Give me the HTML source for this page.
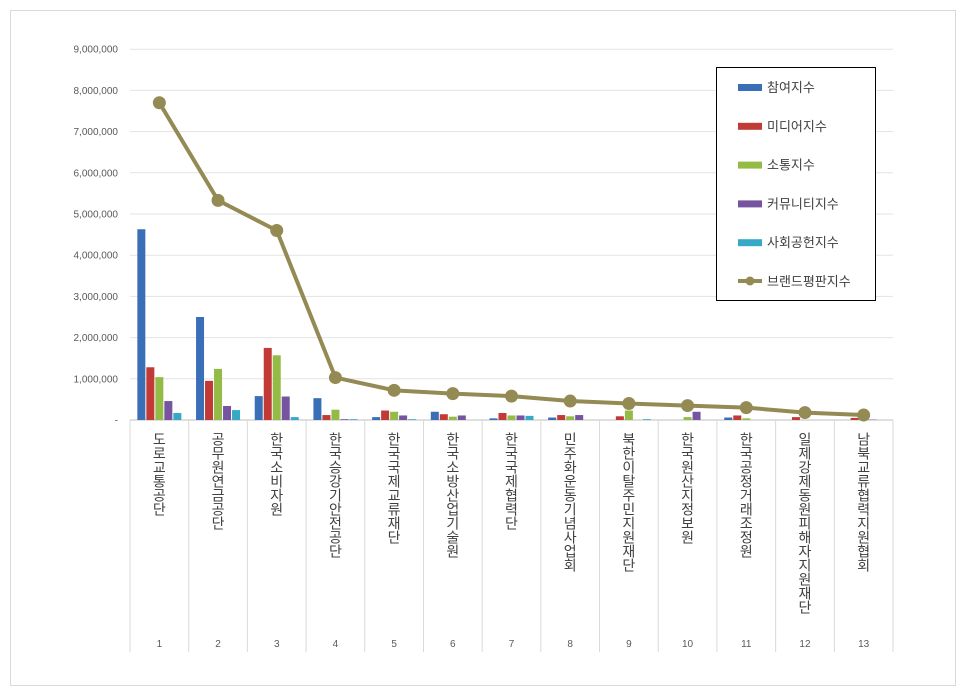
<!DOCTYPE html>
<html><head><meta charset="utf-8"><style>
body{margin:0;background:#fff;}
svg{display:block;font-family:"Liberation Sans","Noto Sans CJK KR",sans-serif;}
</style></head><body>
<svg id="chart" width="966" height="695">
<rect x="10.5" y="10.5" width="945" height="675" fill="#fff" stroke="#d9d9d9"/>
<g id="grid"></g><g id="bars"></g><g id="line"></g><g id="labels"></g>
<g>
<rect x="716.5" y="67.5" width="159" height="233" fill="#fff" stroke="#000"/>
<g id="legend"></g>
</g>
</svg>
<script>
const categories=["도로교통공단","공무원연금공단","한국소비자원","한국승강기안전공단","한국국제교류재단","한국소방산업기술원","한국국제협력단","민주화운동기념사업회","북한이탈주민지원재단","한국원산지정보원","한국공정거래조정원","일제강제동원피해자지원재단","남북교류협력지원협회"];
const participation=[4630000,2500000,580000,530000,70000,200000,40000,60000,0,0,60000,0,0];
const media=[1280000,950000,1750000,120000,230000,140000,170000,120000,90000,0,110000,70000,50000];
const communication=[1040000,1240000,1570000,250000,200000,80000,110000,90000,230000,70000,40000,0,0];
const community=[460000,340000,570000,20000,110000,110000,110000,120000,0,200000,0,0,10000];
const social=[170000,240000,70000,20000,20000,0,100000,0,20000,0,0,0,0];
const brand=[7700000,5330000,4600000,1030000,720000,640000,580000,460000,400000,350000,300000,180000,120000];
const yTicks=[0,1000000,2000000,3000000,4000000,5000000,6000000,7000000,8000000,9000000];
const seriesNames=["참여지수","미디어지수","소통지수","커뮤니티지수","사회공헌지수","브랜드평판지수"];
const colors=["#3a6fb8","#c23a36","#93bb46","#7654a0","#35a9c6","#948a54"];
const NS="http://www.w3.org/2000/svg";
const X0=130,X1=893,Y0=420,PX_PER=41.2/1000000;
const cw=(X1-X0)/categories.length;
const y=v=>Y0-v*PX_PER;
const xc=i=>X0+cw*(i+0.5);
function mk(tag,attrs,parent){const e=document.createElementNS(NS,tag);for(const k in attrs)e.setAttribute(k,attrs[k]);parent.appendChild(e);return e;}
const grid=document.getElementById('grid');
yTicks.forEach((t,i)=>{
 const l=mk('line',{x1:X0,x2:X1,y1:y(t),y2:y(t),stroke:i===0?'#bfbfbf':'#e3e3e3'},grid);
 
 
 const tx=mk('text',{x:118,y:y(t)+3.5,'text-anchor':'end','font-size':'10','fill':'#595959'},grid);
 tx.textContent=t===0?'-':t.toLocaleString('en-US');
 
 
});
for(let i=0;i<=categories.length;i++){
 const l=mk('line',{x1:X0+cw*i,x2:X0+cw*i,y1:Y0,y2:652,stroke:'#d9d9d9'},grid);
 
 
}
const bars=document.getElementById('bars');
const series=[participation,media,communication,community,social];
const bw=8,gap=1;
series.forEach((s,si)=>{
 s.forEach((v,i)=>{
  const x=xc(i)-(5*bw+4*gap)/2+si*(bw+gap);
  const r=mk('rect',{x:x,y:y(v),width:bw,height:Y0-y(v),fill:colors[si]},bars);
  
  
 });
});
const lg=document.getElementById('line');
const pl=mk('polyline',{points:brand.map((v,i)=>xc(i)+','+y(v)).join(' '),fill:'none',stroke:colors[5],'stroke-width':4,'stroke-linejoin':'round'},lg);


brand.forEach((v,i)=>{
 const c=mk('circle',{cx:xc(i),cy:y(v),r:6.5,fill:colors[5]},lg);
 
 
});
const lab=document.getElementById('labels');
categories.forEach((c,i)=>{
 const t=mk('text',{x:xc(i),y:432,'font-size':'14','fill':'#404040','writing-mode':'vertical-rl','glyph-orientation-vertical':'0','style':'text-orientation:upright;letter-spacing:0px'},lab);
 t.textContent=c;
 
 
 const n=mk('text',{x:xc(i),y:647,'text-anchor':'middle','font-size':'10','fill':'#595959'},lab);
 n.textContent=String(i+1);
 
 
});
const leg=document.getElementById('legend');
seriesNames.forEach((n,i)=>{
 const yy=87+i*38.8;
 let m;
 if(i<5){m=mk('rect',{x:738,y:yy-3,width:24,height:7,fill:colors[i]},leg);}
 else{m=mk('g',{},leg);mk('line',{x1:738,x2:762,y1:yy,y2:yy,stroke:colors[5],'stroke-width':4},m);mk('circle',{cx:750,cy:yy,r:4.5,fill:colors[5]},m);}
 
 
 const t=mk('text',{x:767,y:yy+5,'font-size':'13','fill':'#404040'},leg);
 t.textContent=n;
 
 
});
</script>
</body></html>
